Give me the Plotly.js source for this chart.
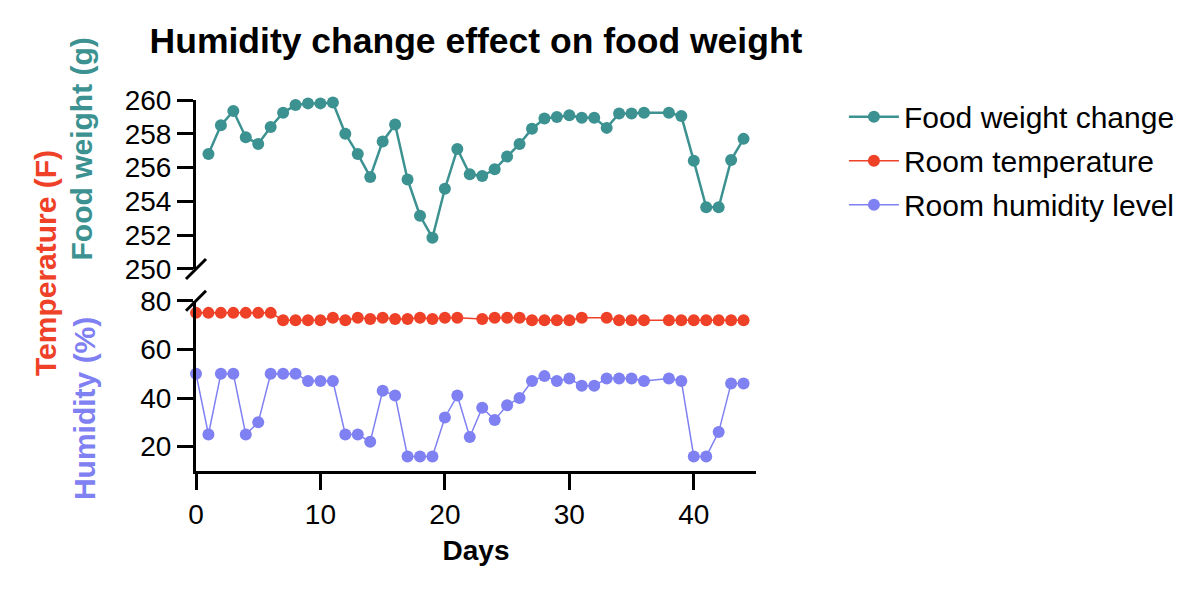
<!DOCTYPE html>
<html>
<head>
<meta charset="utf-8">
<script src="https://cdn.plot.ly/plotly-3.0.1.min.js"></script>
<style>
  html, body { margin: 0; padding: 0; background: #fff; }
  #chart { width: 1200px; height: 591px; }
</style>
</head>
<body>
<div id="chart"></div>
<script>
const days = [0, 1, 2, 3, 4, 5, 6, 7, 8, 9, 10, 11, 12, 13, 14, 15, 16, 17, 18, 19, 20, 21, 22,
    23, 24, 25, 26, 27, 28, 29, 30, 31, 32, 33, 34, 35, 36, 37, 38, 39, 40, 41, 42, 43, 44];

const foodWeight = [null, 256.8, 258.5, 259.35, 257.8, 257.4, 258.4, 259.25, 259.7, 259.8, 259.8,
    259.85, 258.0, 256.8, 255.45, 257.55, 258.55, 255.3, 253.15, 251.85, 254.75, 257.1, 255.6,
    255.5, 255.9, 256.65, 257.4, 258.3, 258.9, 259.0, 259.1, 258.95, 258.95, 258.35, 259.2,
    259.2, 259.25, null, 259.25, 259.05, 256.4, 253.65, 253.65, 256.45, 257.7];

const roomTemp = [75, 75, 75, 75, 75, 75, 75, 72, 72, 72, 72, 73, 72, 73, 72.5, 73, 72.5, 72.5,
    73, 72.5, 73, 73, null, 72.5, 73, 73, 73, 72, 72, 72, 72, 73, null, 73, 72, 72, 72, null,
    72, 72, 72, 72, 72, 72, 72];

const humidity = [50, 25, 50, 50, 25, 30, 50, 50, 50, 47, 47, 47, 25, 25, 22, 43, 41, 16, 16, 16,
    32, 41, 24, 36, 31, 37, 40, 47, 49, 47, 48, 45, 45, 48, 48, 48, 47, null, 48, 47, 16, 16,
    26, 46, 46];

const weightTicks = [250, 252, 254, 256, 258, 260];
const lowerTicks = [20, 40, 60, 80];
const dayTicks = [0, 10, 20, 30, 40];

const colors = {
    teal: '#3c9191',
    red: '#ee4127',
    purple: '#7f80f2',
    axis: '#000000'
};
const font = 'Liberation Sans, Arial, Helvetica, sans-serif';

const traces = [
    {
        x: days, y: foodWeight, yaxis: 'y2',
        name: 'Food weight change', legendgroup: 'w',
        mode: 'lines+markers', connectgaps: true, cliponaxis: false,
        line: { color: colors.teal, width: 2.5 },
        marker: { color: colors.teal, size: 12 }
    },
    {
        x: days, y: roomTemp, yaxis: 'y',
        name: 'Room temperature', legendgroup: 't',
        mode: 'lines+markers', connectgaps: true, cliponaxis: false,
        line: { color: colors.red, width: 1.5 },
        marker: { color: colors.red, size: 12 }
    },
    {
        x: days, y: humidity, yaxis: 'y',
        name: 'Room humidity level', legendgroup: 'h',
        mode: 'lines+markers', connectgaps: true, cliponaxis: false,
        line: { color: colors.purple, width: 1.5 },
        marker: { color: colors.purple, size: 12 }
    }
];

const axisStyle = {
    showline: true, linecolor: colors.axis, linewidth: 3,
    ticks: 'outside', ticklen: 16, tickwidth: 3, tickcolor: colors.axis,
    showgrid: false, zeroline: false,
    tickfont: { family: font, size: 28, color: '#000' }
};

const lowerDomain = [0, 0.459];
const upperDomain = [0.5445, 1];

// broken-axis slashes, sized in pixels around the axis ends
const slash = (yAnchor) => ({
    type: 'line', xref: 'paper', yref: 'paper',
    xsizemode: 'pixel', ysizemode: 'pixel',
    xanchor: 0, yanchor: yAnchor,
    x0: -10, x1: 10, y0: -10, y1: 10,
    line: { color: colors.axis, width: 3 }
});

const sideLabel = (text, color, x, y) => ({
    text: '<b>' + text + '</b>', xref: 'paper', yref: 'paper',
    x: x, y: y, xanchor: 'center', yanchor: 'middle',
    textangle: -90, showarrow: false,
    font: { family: font, size: 30, color: color }
});

const layout = {
    width: 1200, height: 591,
    margin: { l: 196, r: 444, t: 100, b: 120 },
    paper_bgcolor: '#fff', plot_bgcolor: '#fff',
    font: { family: font, color: '#000' },
    title: {
        text: '<b>Humidity change effect on food weight</b>',
        font: { family: font, size: 35.5, color: '#000' },
        x: 0.5, xref: 'paper', xanchor: 'center',
        y: 0.932, yref: 'container', yanchor: 'middle'
    },
    xaxis: Object.assign({}, axisStyle, {
        range: [0, 45], tickvals: dayTicks, anchor: 'y',
        title: { text: '<b>Days</b>', font: { family: font, size: 28, color: '#000' }, standoff: 12 }
    }),
    yaxis: Object.assign({}, axisStyle, {
        domain: lowerDomain, range: [10, 80], tickvals: lowerTicks, anchor: 'x'
    }),
    yaxis2: Object.assign({}, axisStyle, {
        domain: upperDomain, range: [250, 260], tickvals: weightTicks, anchor: 'x'
    }),
    showlegend: true,
    legend: {
        x: 1.157, xanchor: 'left', y: 1.025, yanchor: 'top',
        font: { family: font, size: 30, color: '#000' },
        itemwidth: 50, tracegroupgap: 2,
        bgcolor: 'rgba(0,0,0,0)'
    },
    shapes: [slash(upperDomain[0]), slash(lowerDomain[1])],
    annotations: [
        sideLabel('Temperature (F)', colors.red, -0.2696, 0.5606),
        sideLabel('Food weight (g)', colors.teal, -0.2045, 0.868),
        sideLabel('Humidity (%)', colors.purple, -0.2, 0.167)
    ]
};

Plotly.newPlot('chart', traces, layout, { displayModeBar: false, staticPlot: true });
</script>
</body>
</html>
